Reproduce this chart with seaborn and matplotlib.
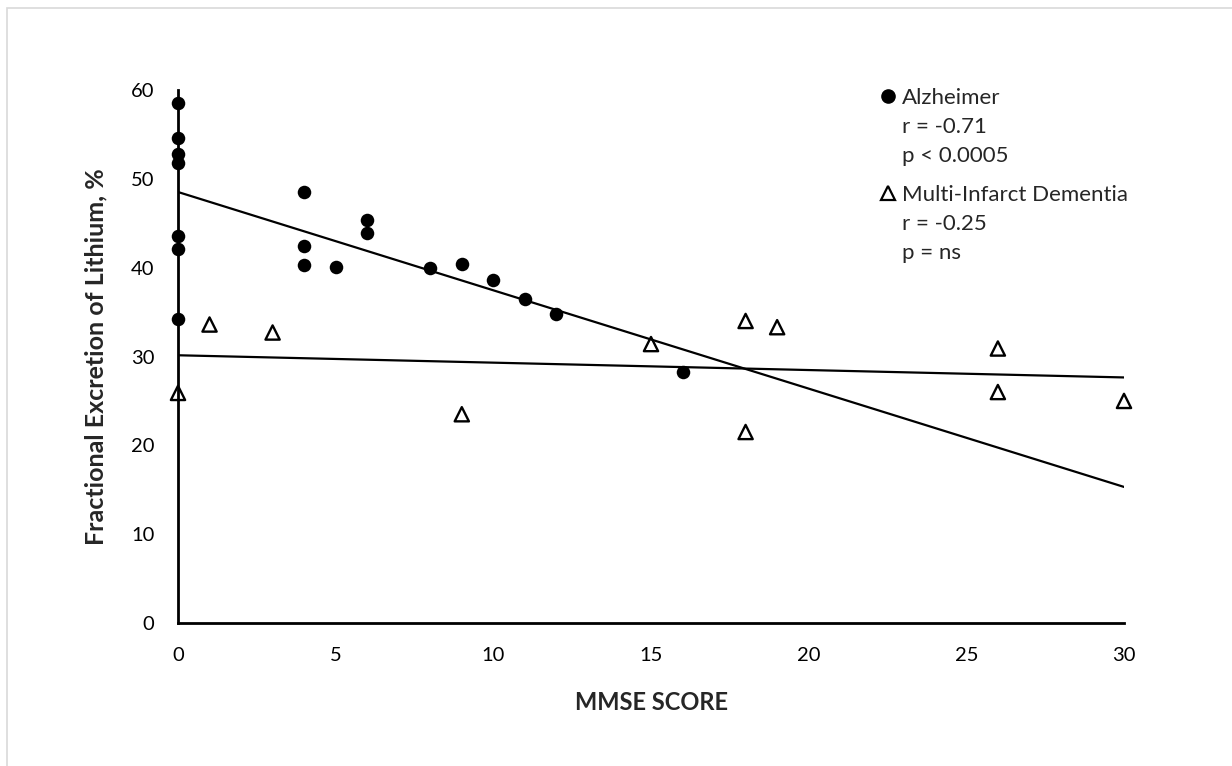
import matplotlib.pyplot as plt
import matplotlib.patches as mpatches
from matplotlib.lines import Line2D
import pandas as pd
import seaborn as sns

# Alzheimer group (filled circles)
alz_mmse = [0, 0, 0, 0, 0, 0, 0, 4, 4, 4, 5, 6, 6, 8, 9, 10, 11, 12, 16]
alz_fe = [58.5, 54.6, 52.8, 51.8, 43.6, 42.1, 34.2, 48.5, 42.4, 40.3,
          40.1, 45.4, 43.9, 40.0, 40.4, 38.6, 36.5, 34.8, 28.2]

# Multi-Infarct Dementia group (open triangles)
mid_mmse = [0, 1, 3, 9, 15, 18, 18, 19, 26, 26, 30]
mid_fe = [25.9, 33.6, 32.7, 23.5, 31.4, 34.0, 21.5, 33.3, 30.9, 26.0, 25.0]

x_ticks = [0, 5, 10, 15, 20, 25, 30]
y_ticks = [0, 10, 20, 30, 40, 50, 60]

alz_label = ['Alzheimer', 'r = -0.71', 'p < 0.0005']
mid_label = ['Multi-Infarct Dementia', 'r = -0.25', 'p = ns']

alz = pd.DataFrame({'mmse': alz_mmse, 'fe': alz_fe})
mid = pd.DataFrame({'mmse': mid_mmse, 'fe': mid_fe})

sns.set_theme(style='white')
plt.rcParams['font.family'] = ['Lato', 'DejaVu Sans']

fig = plt.figure(figsize=(12.32, 7.66), dpi=100)
ax = fig.add_axes([178 / 1232, 1 - 623 / 766, 946 / 1232, 533 / 766])
ax.set_xlim(0, 30)
ax.set_ylim(0, 60)

# regression lines run over the full axis range (truncate=False)
sns.regplot(data=alz, x='mmse', y='fe', ax=ax, ci=None, truncate=False,
            marker='o', color='black',
            scatter_kws=dict(s=95, alpha=1, linewidths=0, clip_on=False, zorder=4),
            line_kws=dict(lw=1.6, zorder=3))
sns.regplot(data=mid, x='mmse', y='fe', ax=ax, ci=None, truncate=False,
            marker='^', color='black',
            scatter_kws=dict(s=105, alpha=1, facecolors='none', edgecolors='black',
                             linewidths=1.7, clip_on=False, zorder=4),
            line_kws=dict(lw=1.6, zorder=3))

ax.set_xlim(0, 30)
ax.set_ylim(0, 60)
ax.set_xticks(x_ticks)
ax.set_yticks(y_ticks)
ax.tick_params(length=0, labelsize=14.5, colors='black')
ax.tick_params(axis='y', pad=17)
ax.tick_params(axis='x', pad=17)
for side in ['top', 'right']:
    ax.spines[side].set_visible(False)
for side in ['left', 'bottom']:
    ax.spines[side].set_linewidth(2)
    ax.spines[side].set_color('black')

ax.set_xlabel('MMSE SCORE', fontsize=17, fontweight='bold')
ax.set_ylabel('Fractional Excretion of Lithium, %', fontsize=18, fontweight='bold')
ax.xaxis.set_label_coords(0.5, (623 - 691) / 533, transform=ax.transAxes)
ax.yaxis.set_label_coords((107 - 178) / 946, 0.5, transform=ax.transAxes)


def blank():
    return Line2D([], [], lw=0, marker=None)


h_alz = [Line2D([], [], lw=0, marker='o', color='black', markersize=9.5)] + [blank(), blank()]
h_mid = [Line2D([], [], lw=0, marker='^', markerfacecolor='none',
                markeredgecolor='black', markeredgewidth=1.6, markersize=10.5)] + [blank(), blank()]

common = dict(loc='upper left', frameon=False, fontsize=16, borderpad=0,
              borderaxespad=0, handlelength=0.65, handletextpad=0.3,
              labelspacing=0.4)
leg1 = ax.legend(h_alz, alz_label, bbox_to_anchor=((881 - 178) / 946, (623 - 88) / 533),
                 **common)
ax.add_artist(leg1)
ax.legend(h_mid, mid_label, bbox_to_anchor=((881 - 178) / 946, (623 - 185) / 533),
          **common)

# light grey chart-area frame (only top and left edges fall inside the image)
fig.add_artist(mpatches.Rectangle((7 / 1232, -0.2), 1.2, (766 - 8) / 766 + 0.2,
                                  transform=fig.transFigure, fill=False,
                                  edgecolor='#d9d9d9', lw=1.2))

fig.savefig('out.png', dpi=100)
